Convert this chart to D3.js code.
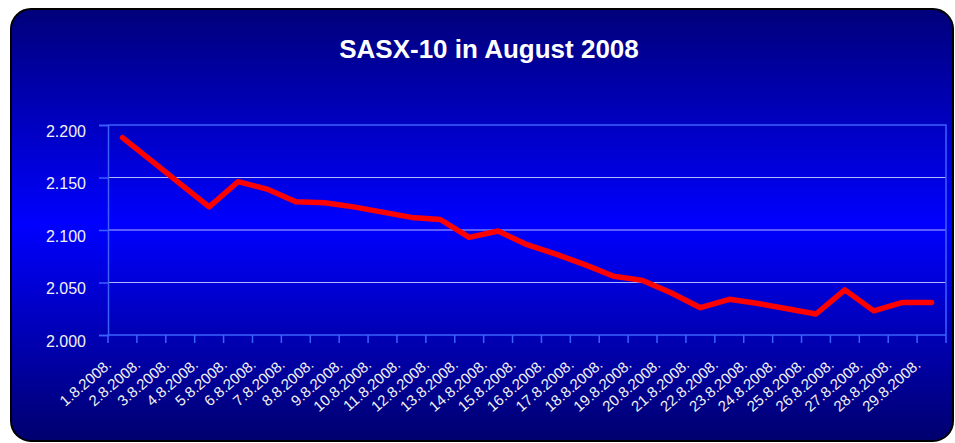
<!DOCTYPE html>
<html>
<head>
<meta charset="utf-8">
<script src="https://cdn.jsdelivr.net/npm/d3@7"></script>
<style>
  body { margin: 0; background: #fff; }
  text { font-family: "Liberation Sans", Arial, sans-serif; }
</style>
</head>
<body>
<div id="chart"></div>
<script>
const dates = ["1.8.2008.", "2.8.2008.", "3.8.2008.", "4.8.2008.", "5.8.2008.", "6.8.2008.", "7.8.2008.",
    "8.8.2008.", "9.8.2008.", "10.8.2008.", "11.8.2008.", "12.8.2008.", "13.8.2008.", "14.8.2008.",
    "15.8.2008.", "16.8.2008.", "17.8.2008.", "18.8.2008.", "19.8.2008.", "20.8.2008.", "21.8.2008.",
    "22.8.2008.", "23.8.2008.", "24.8.2008.", "25.8.2008.", "26.8.2008.", "27.8.2008.", "28.8.2008.",
    "29.8.2008."];
const values = [2.188, 2.166, 2.144, 2.122, 2.146, 2.139, 2.127, 2.126, 2.122, 2.117, 2.112, 2.110,
    2.093, 2.099, 2.086, 2.077, 2.067, 2.056, 2.052, 2.040, 2.026, 2.034, 2.030, 2.025, 2.020,
    2.043, 2.023, 2.031, 2.031];
const yTicks = [2.000, 2.050, 2.100, 2.150, 2.200];
const title = "SASX-10 in August 2008";

const W = 955, H = 443;
const margin = { top: 125, right: 9, bottom: 108, left: 108 };
const width = W - margin.left - margin.right,
    height = H - margin.top - margin.bottom;

const root = d3.select("#chart")
    .append("svg")
    .attr("width", W)
    .attr("height", H);

const grad = root.append("defs")
    .append("linearGradient")
    .attr("id", "bg")
    .attr("x1", 0).attr("y1", 0).attr("x2", 0).attr("y2", 1);
grad.append("stop").attr("offset", "0%").attr("stop-color", "#00007a");
grad.append("stop").attr("offset", "50%").attr("stop-color", "#0000ff");
grad.append("stop").attr("offset", "100%").attr("stop-color", "#00006e");

root.append("rect")
    .attr("x", 11)
    .attr("y", 9)
    .attr("width", 942)
    .attr("height", 432)
    .attr("rx", 20)
    .attr("fill", "url(#bg)")
    .attr("stroke", "#000")
    .attr("stroke-width", 2);

root.append("text")
    .attr("x", 489)
    .attr("y", 58)
    .attr("text-anchor", "middle")
    .attr("fill", "#fff")
    .style("font-size", "26px")
    .style("font-weight", "bold")
    .text(title);

const svg = root.append("g")
    .attr("transform", `translate(${margin.left},${margin.top})`);

const x = d3.scaleBand()
    .domain(dates)
    .range([0, width]);

const y = d3.scaleLinear()
    .domain([2.0, 2.2])
    .range([height, 0]);

// gridlines
svg.selectAll(".grid")
    .data(yTicks.slice(1, -1))
    .join("line")
    .attr("class", "grid")
    .attr("x1", 0)
    .attr("x2", width)
    .attr("y1", d => y(d))
    .attr("y2", d => y(d))
    .attr("stroke", "#b4b8ff")
    .attr("stroke-width", 1.2);

// plot frame
svg.append("path")
    .attr("d", `M0,0H${width}V${height}`)
    .attr("fill", "none")
    .attr("stroke", "#3b62ff")
    .attr("stroke-width", 1.5);

// y axis
const yAxis = svg.append("g")
    .call(d3.axisLeft(y).tickValues(yTicks).tickSize(9).tickPadding(13).tickFormat(d3.format(".3f")));
yAxis.select(".domain").attr("stroke", "#3b62ff").attr("stroke-width", 1.5);
yAxis.selectAll(".tick line").attr("stroke", "#3b62ff").attr("stroke-width", 1.5);
yAxis.selectAll(".tick text")
    .attr("fill", "#f2f2f2")
    .attr("y", 6)
    .style("font-size", "16px")
    .style("font-family", "'Liberation Sans', Arial, sans-serif");

// x axis
svg.append("line")
    .attr("x1", 0).attr("x2", width)
    .attr("y1", height).attr("y2", height)
    .attr("stroke", "#3b62ff")
    .attr("stroke-width", 1.5);

svg.selectAll(".xtick")
    .data(dates.map(d => x(d)).concat([width]))
    .join("line")
    .attr("class", "xtick")
    .attr("x1", d => d).attr("x2", d => d)
    .attr("y1", height).attr("y2", height + 8)
    .attr("stroke", "#3b62ff")
    .attr("stroke-width", 1.5);

svg.selectAll(".xlabel")
    .data(dates)
    .join("text")
    .attr("class", "xlabel")
    .attr("transform", d => `translate(${x(d) + x.bandwidth() / 2 - 10},${height + 31}) rotate(-41)`)
    .attr("text-anchor", "end")
    .attr("fill", "#f2f2f2")
    .style("font-size", "15px")
    .text(d => d);

// line
svg.append("path")
    .datum(values)
    .attr("fill", "none")
    .attr("stroke", "#ff0000")
    .attr("stroke-width", 5.5)
    .attr("stroke-linejoin", "round")
    .attr("stroke-linecap", "round")
    .attr("d", d3.line()
        .x((d, i) => x(dates[i]) + x.bandwidth() / 2)
        .y(d => y(d)));
</script>
</body>
</html>
